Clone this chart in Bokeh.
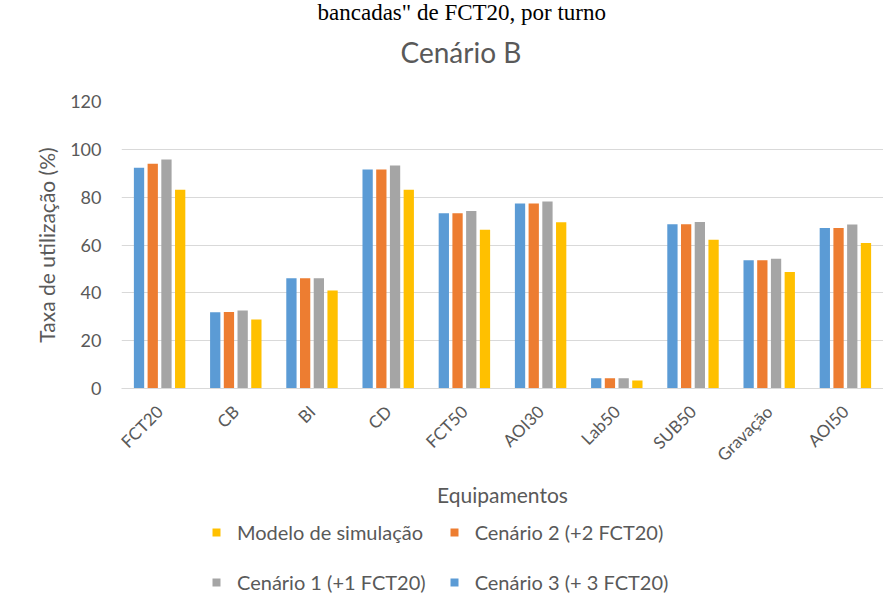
import math
from bokeh.plotting import figure
from bokeh.layouts import column
from bokeh.models import (ColumnDataSource, FactorRange, Range1d, FixedTicker,
                          Legend, LegendItem, Label)
from bokeh.transform import dodge
from bokeh.embed import file_html
from bokeh.resources import INLINE

# ---- data ----
categories = ["FCT20", "CB", "BI", "CD", "FCT50", "AOI30", "Lab50", "SUB50", "Gravação", "AOI50"]
cenario3 = [92.3, 31.9, 46.1, 91.6, 73.3, 77.3, 4.3, 68.7, 53.6, 67.1]
cenario2 = [94.0, 32.0, 46.1, 91.6, 73.3, 77.3, 4.3, 68.7, 53.6, 67.1]
cenario1 = [95.7, 32.6, 46.1, 93.2, 74.2, 78.2, 4.3, 69.6, 54.3, 68.6]
modelo = [83.1, 28.9, 41.0, 83.1, 66.4, 69.5, 3.3, 62.2, 48.7, 60.8]
y_ticks = [0, 20, 40, 60, 80, 100, 120]

series_names = ["Cenário 3 (+ 3 FCT20)", "Cenário 2 (+2 FCT20)", "Cenário 1 (+1 FCT20)", "Modelo de simulação"]
title_text = "Cenário B"
top_text = "bancadas\" de FCT20, por turno"
x_label = "Equipamentos"
y_label = "Taxa de utilização (%)"

FONT = "Lato"
GREY_TXT = "#595959"
colors = ["#5B9BD5", "#ED7D31", "#A5A5A5", "#FFC000"]
cols = ["c3", "c2", "c1", "m"]
offsets = [-0.27, -0.09, 0.09, 0.27]

src = ColumnDataSource(dict(cat=categories, c3=cenario3, c2=cenario2, c1=cenario1, m=modelo))

# ---- title strip ----
tf = figure(width=883, height=85, output_backend="svg", toolbar_location=None, title=None,
            x_range=Range1d(0, 1), y_range=Range1d(0, 1),
            x_axis_location=None, y_axis_location=None, min_border=0)
tf.outline_line_color = None
tf.grid.visible = False
tf.add_layout(Label(x=196, y=73, x_units="screen", y_units="screen", text=top_text,
                    text_font="Liberation Serif", text_font_size="23px", text_color="black",
                    text_align="left", text_baseline="alphabetic"))
tf.add_layout(Label(x=279, y=34, x_units="screen", y_units="screen", text=title_text,
                    text_font=FONT, text_font_size="28px", text_color=GREY_TXT,
                    text_align="left", text_baseline="alphabetic"))

# ---- main chart ----
p = figure(x_range=FactorRange(*categories), y_range=Range1d(0, 120),
           width=883, height=424, output_backend="svg", toolbar_location=None,
           title=None, min_border_left=121, min_border_right=0,
           min_border_top=16, min_border_bottom=121)
p.outline_line_color = None

for off, col, c in zip(offsets, cols, colors):
    p.vbar(x=dodge("cat", off, range=p.x_range), top=col, width=0.135,
           source=src, fill_color=c, line_color=None)

p.xgrid.grid_line_color = None
p.ygrid.grid_line_color = "#d9d9d9"
p.ygrid.grid_line_width = 1
p.yaxis.ticker = FixedTicker(ticks=y_ticks)

p.xaxis.axis_line_color = "#d9d9d9"
p.xaxis.major_tick_line_color = None
p.xaxis.minor_tick_line_color = None
p.xaxis.major_label_orientation = math.pi / 4
p.xaxis.major_label_text_font = FONT
p.xaxis.major_label_text_font_size = "17px"
p.xaxis.major_label_text_color = GREY_TXT
p.xaxis.major_label_standoff = 14
p.xaxis.axis_label = x_label
p.xaxis.axis_label_text_font = FONT
p.xaxis.axis_label_text_font_size = "21px"
p.xaxis.axis_label_text_font_style = "normal"
p.xaxis.axis_label_text_color = GREY_TXT
p.xaxis.axis_label_standoff = 6

p.yaxis.axis_line_color = None
p.yaxis.major_tick_line_color = None
p.yaxis.minor_tick_line_color = None
p.yaxis.major_label_text_font = FONT
p.yaxis.major_label_text_font_size = "18px"
p.yaxis.major_label_text_color = GREY_TXT
p.yaxis.major_label_standoff = 14
p.yaxis.axis_label = y_label
p.yaxis.axis_label_text_font = FONT
p.yaxis.axis_label_text_font_size = "21px"
p.yaxis.axis_label_text_font_style = "normal"
p.yaxis.axis_label_text_color = GREY_TXT
p.yaxis.axis_label_standoff = 8

# ---- legend strip (markers lie far outside its visible range; only the legend shows) ----
lf = figure(width=883, height=92, output_backend="svg", toolbar_location=None, title=None,
            x_range=FactorRange(*categories), y_range=Range1d(-1000, -999),
            x_axis_location=None, y_axis_location=None, min_border=0)
lf.outline_line_color = None
lf.grid.visible = False
leg_r = []
for col, c in zip(cols, colors):
    leg_r.append(lf.scatter(x="cat", y=col, marker="square", size=8, source=src,
                            fill_color=c, line_color=None))

items = [
    LegendItem(label=series_names[3], renderers=[leg_r[3]]),
    LegendItem(label=series_names[2], renderers=[leg_r[2]]),
    LegendItem(label=series_names[1], renderers=[leg_r[1]]),
    LegendItem(label=series_names[0], renderers=[leg_r[0]]),
]
legend = Legend(items=items, ncols=2, location=(85, 3),
                label_text_font=FONT, label_text_font_size="20px", label_text_color=GREY_TXT,
                glyph_width=20, glyph_height=32, label_height=32, label_standoff=11,
                spacing=18, padding=0, margin=0, border_line_color=None,
                background_fill_alpha=0)
lf.add_layout(legend, "center")

layout = column(tf, p, lf, spacing=0)
open("out.html", "w").write(file_html(layout, INLINE))
